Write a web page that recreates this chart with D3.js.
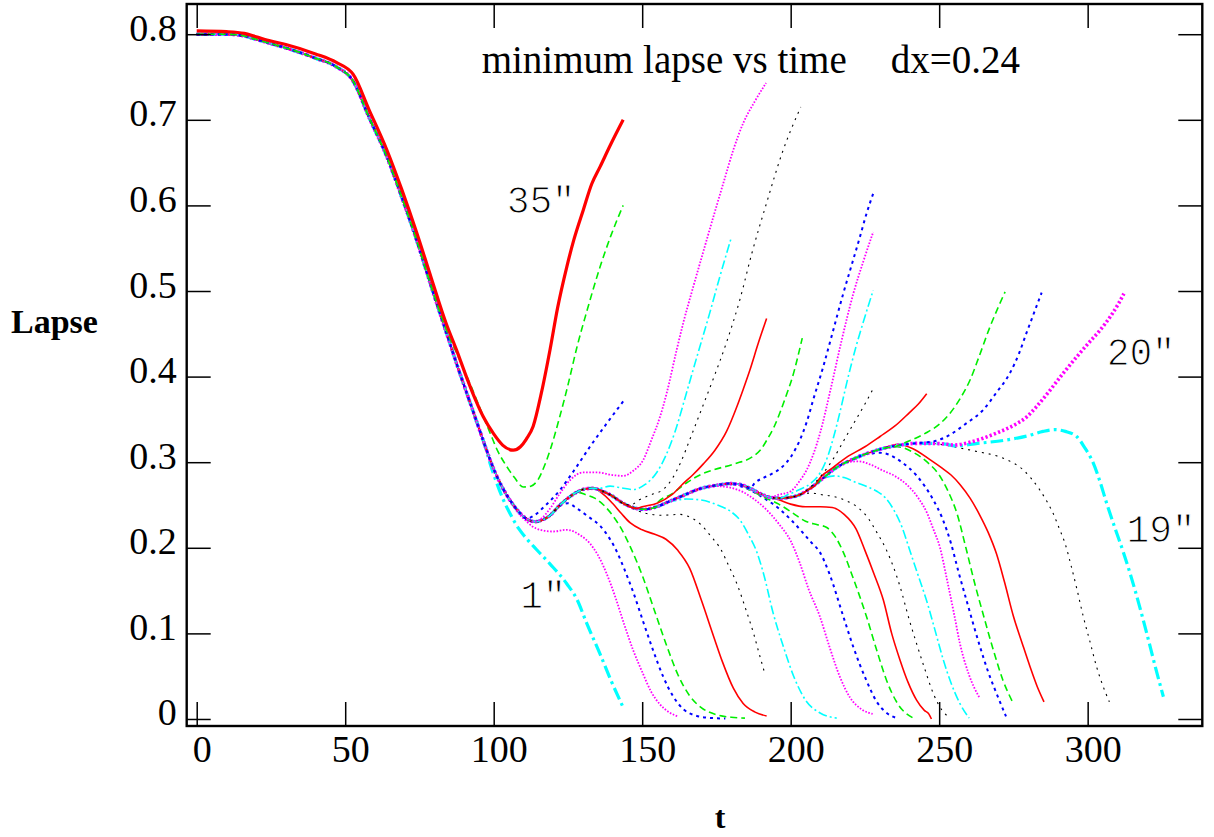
<!DOCTYPE html>
<html>
<head>
<meta charset="utf-8">
<script src="https://cdn.jsdelivr.net/npm/d3@7"></script>
<style>
  body { margin: 0; background: #fff; }
</style>
</head>
<body>
<svg id="chart" width="1214" height="837"></svg>
<script>
// min lapse vs t. every run shares the trunk until it peels away
var trunk = [[0,0.800],[10,0.800],[16,0.798],[20,0.794],[25,0.789],[30,0.784],[40,0.772],[47,0.762],[52.7,0.745],
  [58,0.703],[64,0.657],[69,0.610],[74,0.560],[79,0.505],[84,0.452],[88,0.410],[91,0.380],[94,0.350],[97,0.320],
  [100,0.292],[103,0.270],[106,0.253],[109,0.240],[112,0.232],[114,0.2305],[116,0.232],[119,0.238],[122.3,0.250],
  [125,0.258],[128,0.265],[131,0.269],[133.5,0.2695],[136,0.267],[139.2,0.262],[143.6,0.252],[148,0.246],[151,0.245],
  [154.9,0.248],[159,0.254],[163.8,0.261],[169.4,0.269],[175,0.273],[179.6,0.275],[183,0.274],[186.3,0.2695],
  [190,0.263],[193,0.259],[196.4,0.258],[200,0.259],[203.1,0.262],[206,0.268],[208.8,0.2753],[211.5,0.283],
  [214.3,0.291],[217,0.297],[220,0.302],[225.6,0.310],[231,0.316],[236.8,0.320],[242,0.322],[247,0.322],[252.5,0.321],[258,0.321]]

var tail01 = [[99,0.296],[101,0.276],[103,0.258],[105.5,0.240],[108.5,0.222],[111.5,0.209],[114.4,0.198],[119,0.181],[124.6,0.158],[128,0.140],[131.3,0.112],[135.8,0.076],[139.5,0.045],[143.4,0.015]]
var tail02 = [[108,0.242],[111,0.231],[113,0.225],[115.6,0.221],[120,0.219],[124.6,0.221],[129,0.215],[132.4,0.205],[135,0.192],[138,0.170],[141,0.142],[144,0.110],[147,0.08],[150,0.055],[153,0.032],[156,0.017],[159,0.008],[162,0.003]]
var tail03 = [[122.3,0.249],[125,0.252],[128,0.246],[132,0.236],[136,0.225],[139,0.211],[141.4,0.196],[144,0.175],[147,0.148],[150.4,0.113],[153.7,0.08],[157,0.05],[160.5,0.026],[164,0.011],[168,0.004],[172,0.0015],[178,0.0005]]
var tail04 = [[131,0.262],[134,0.258],[137,0.250],[140,0.238],[143,0.222],[146,0.201],[150,0.168],[154,0.128],[158,0.088],[162,0.052],[166,0.027],[170,0.013],[175,0.005],[180,0.002],[184.6,0.001]]
var tail05 = [[136,0.265],[140,0.252],[143,0.240],[146,0.229],[150,0.221],[154,0.216],[158,0.210],[162,0.197],[166,0.176],[170,0.138],[174,0.097],[177,0.067],[180.7,0.036],[184,0.018],[188,0.008],[191.9,0.0035]]
var tail06 = [[145,0.249],[148,0.244],[151.5,0.240],[157,0.238],[162.7,0.239],[166,0.236],[169.5,0.228],[173,0.214],[176.5,0.198],[179,0.18],[182,0.157],[185,0.127],[187.5,0.100],[189.5,0.075],[191.3,0.053]]
var tail07 = [[157,0.251],[161,0.255],[165,0.257],[169.5,0.256],[176,0.249],[180,0.242],[183,0.232],[186,0.214],[188.6,0.195],[191,0.168],[194,0.125],[197.5,0.085],[201,0.05],[205,0.022],[209.9,0.007],[215.5,0.001]]
var tail08 = [[175,0.272],[180,0.270],[184,0.265],[188,0.256],[192,0.244],[196,0.228],[200,0.208],[203.1,0.182],[206,0.152],[209.8,0.12],[213,0.085],[216.6,0.049],[220,0.025],[224,0.011],[227.6,0.006]]
var tail09 = [[181,0.274],[186,0.268],[191,0.258],[196,0.246],[200,0.233],[204,0.218],[207,0.206],[209.8,0.195],[213,0.17],[217.7,0.12],[221,0.085],[225.5,0.045],[229,0.02],[232,0.008],[235.7,0.001]]
var tail10 = [[186,0.268],[191,0.259],[196,0.251],[201,0.240],[205,0.231],[209,0.227],[212,0.224],[215,0.213],[217.7,0.195],[221,0.165],[225.5,0.12],[229,0.08],[232.3,0.045],[236,0.018],[241.3,0.001]]
var tail11 = [[192,0.260],[196,0.256],[200,0.251],[205,0.248],[210,0.248],[214,0.247],[218,0.239],[222,0.222],[225,0.197],[228,0.17],[231.2,0.139],[234,0.10],[236.8,0.069],[239.5,0.043],[242.4,0.022],[245,0.010],[246.5,0.006],[247.4,0]]
var tail12 = [[203,0.262],[207,0.264],[210.5,0.262],[214.4,0.260],[218,0.256],[222.3,0.248],[226,0.235],[229,0.218],[232.3,0.197],[236.8,0.155],[240,0.115],[242.4,0.088],[245,0.06],[248,0.030],[251,0.01],[253.8,0.001]]
var tail13 = [[211,0.281],[215,0.284],[218,0.282],[222.3,0.276],[226,0.271],[229,0.266],[232,0.258],[234.6,0.245],[237.5,0.224],[240.1,0.197],[243,0.167],[245.7,0.139],[248.5,0.105],[251.4,0.069],[254,0.042],[257,0.018],[260.1,0.001]]
var tail14 = [[219,0.300],[223,0.301],[227,0.297],[231.2,0.290],[235,0.284],[239,0.274],[243,0.258],[246,0.240],[248,0.222],[250.3,0.200],[252.5,0.165],[255,0.123],[257,0.088],[260,0.052],[263.7,0.024]]
var tail15 = [[226,0.310],[230,0.311],[233,0.309],[237,0.301],[242.5,0.284],[248,0.256],[251,0.235],[254,0.205],[256.5,0.172],[259.5,0.135],[263.7,0.085],[266.5,0.055],[269.3,0.030],[272.5,0.003]]
var tail16 = [[231,0.316],[236,0.318],[241,0.312],[246,0.300],[250,0.285],[253,0.266],[256,0.240],[259,0.200],[262,0.158],[265,0.12],[268.2,0.081],[271.5,0.045],[274.7,0.020]]
var tail17 = [[236,0.321],[241,0.316],[246.9,0.303],[251,0.293],[254,0.285],[257,0.274],[260.4,0.258],[263.7,0.238],[266.5,0.218],[269.3,0.193],[272,0.16],[275,0.12],[278,0.088],[280.6,0.061],[283,0.038],[285.3,0.020]]
var tail18 = [[250,0.321],[255,0.318],[262,0.313],[270.5,0.306],[275,0.299],[278.3,0.291],[281,0.281],[283.9,0.2675],[286.3,0.254],[288.4,0.240],[290.5,0.222],[292.4,0.205],[294.5,0.178],[296.5,0.15],[298.5,0.12],[300.8,0.09],[303,0.061],[305,0.04],[307.3,0.020]]
var tail19 = [[255,0.319],[263,0.322],[272.7,0.326],[280,0.331],[285,0.336],[289,0.338],[292.5,0.336],[296.3,0.330],[299,0.317],[301.9,0.299],[304,0.279],[306.4,0.252],[309,0.225],[312,0.195],[316,0.15],[319.9,0.100],[323,0.058],[325.5,0.026]]
var tail20 = [[255,0.320],[260,0.323],[264.8,0.328],[270,0.335],[276.1,0.345],[279.5,0.353],[282.8,0.365],[287.3,0.384],[292,0.405],[296.3,0.423],[300,0.438],[304.1,0.454],[308,0.472],[310.5,0.486],[312.2,0.497]]
var tail21 = [[245,0.323],[249,0.325],[253.6,0.332],[259,0.345],[264.8,0.361],[269,0.38],[273.8,0.404],[277,0.428],[279.4,0.451],[282,0.475],[284.5,0.498]]
var tail22 = [[238,0.322],[242,0.328],[246,0.335],[250.3,0.345],[253.6,0.357],[257,0.374],[260.4,0.396],[263.5,0.424],[267.1,0.458],[270,0.482],[272.2,0.499]]
var tail23 = [[209,0.277],[214,0.293],[218.9,0.306],[225,0.318],[230.1,0.33],[235,0.342],[240,0.358],[243,0.368],[245.8,0.380]]
var tail24 = [[206,0.269],[210,0.283],[214,0.302],[218,0.326],[222,0.35],[225,0.368],[227.8,0.386]]
var tail25 = [[199,0.262],[203,0.268],[207,0.276],[210,0.288],[212.5,0.307],[214.5,0.33],[216.7,0.36],[218.9,0.393],[222,0.435],[225,0.47],[227.8,0.501]]
var tail26 = [[196,0.262],[200,0.266],[203,0.278],[205.4,0.291],[207.7,0.31],[209.9,0.334],[213.5,0.386],[217,0.44],[221.1,0.497],[224.5,0.535],[227.8,0.569]]
var tail27 = [[188,0.276],[191,0.282],[194,0.287],[197,0.294],[200,0.306],[203.1,0.326],[205.5,0.348],[207.6,0.373],[211,0.412],[214,0.45],[217.7,0.497],[220.5,0.53],[223.3,0.563],[225.5,0.59],[227.8,0.614]]
var tail28 = [[155,0.252],[160,0.263],[165,0.276],[170,0.286],[174,0.291],[181,0.298],[187.4,0.307],[190,0.315],[192,0.326],[194.5,0.342],[196.4,0.358],[198.5,0.378],[200.3,0.396],[203.9,0.445]]
var tail29 = [[150,0.248],[155,0.252],[160,0.262],[163.8,0.275],[167,0.285],[170.6,0.298],[174.5,0.314],[178.4,0.336],[182,0.366],[184,0.385],[186.3,0.408],[189,0.438],[191.9,0.468]]
var tail30 = [[146,0.250],[149,0.256],[153,0.262],[157,0.268],[160,0.28],[163,0.30],[166.1,0.327],[170,0.362],[174,0.398],[178.4,0.44],[182.9,0.49],[187,0.545],[191.9,0.603],[197,0.66],[203.4,0.715]]
var tail31 = [[135,0.269],[139.2,0.272],[143,0.27],[147,0.268],[151,0.274],[154.9,0.288],[158,0.308],[161,0.335],[165,0.382],[169,0.43],[172.8,0.475],[176,0.515],[179.8,0.56]]
var tail32 = [[116,0.234],[119,0.246],[122,0.262],[126,0.280],[130,0.288],[135,0.288],[140,0.285],[143.6,0.284],[147,0.29],[150.4,0.303],[153,0.325],[156,0.353],[158.2,0.38],[161.6,0.431],[164,0.465],[167.2,0.505],[170.5,0.545],[174,0.587],[177.5,0.628],[180.7,0.665],[184,0.696],[188,0.722],[191.7,0.743]]
var tail33 = [[111,0.234],[113.3,0.237],[117,0.248],[122.3,0.2675],[127,0.29],[132.4,0.318],[138,0.345],[143.6,0.371]]
var tail34 = [[84,0.455],[88.5,0.42],[92,0.392],[95.5,0.362],[98.8,0.334],[101.5,0.312],[104.4,0.295],[107,0.282],[110,0.271],[112.5,0.272],[115,0.28],[117,0.295],[119,0.314],[122,0.35],[125,0.39],[128,0.434],[131.5,0.478],[135.8,0.528],[139.5,0.565],[143.6,0.600]]
// run 35 sits a hair above the rest the whole way, so it gets its own full path
var tail35 = [[0,0.804],[10,0.803],[16,0.801],[20,0.797],[25,0.792],[30,0.788],[40,0.777],[47,0.767],[52.7,0.753],[58,0.712],
  [64,0.665],[69,0.619],[74,0.569],[79,0.515],[84,0.462],[87.5,0.431],[91,0.398],[94,0.372],[96.5,0.353],[100,0.333],
  [103,0.320],[106.6,0.314],[109,0.318],[111,0.327],[113.3,0.342],[116,0.38],[119,0.432],[121.5,0.48],[124.6,0.528],
  [127,0.56],[130.2,0.595],[133,0.625],[135.8,0.645],[139.5,0.672],[143.6,0.70]]

var xTicks = [0, 50, 100, 150, 200, 250, 300]
var yTicks = [0, 0.1, 0.2, 0.3, 0.4, 0.5, 0.6, 0.7, 0.8]
var runLabels = ['35"', '1"', '20"', '19"']
var labelAt = [[104.4, 0.591], [108.9, 0.130], [306.4, 0.414], [313.1, 0.207]]

var tails = [tail01, tail02, tail03, tail04, tail05, tail06, tail07, tail08, tail09, tail10, tail11, tail12,
  tail13, tail14, tail15, tail16, tail17, tail18, tail19, tail20, tail21, tail22, tail23, tail24,
  tail25, tail26, tail27, tail28, tail29, tail30, tail31, tail32, tail33, tail34, tail35]

// gnuplot style cycle: cyan, magenta, blue, green, red, black
var styles = [
  {color: '#00ffff', dash: '9,3,2,3', w: 1.6},
  {color: '#ff00ff', dash: '1.6,1.6', w: 1.8},
  {color: '#0000ff', dash: '3,4', w: 2},
  {color: '#00ee00', dash: '7,4', w: 1.6},
  {color: '#ff0000', dash: null, w: 1.6},
  {color: '#000000', dash: '2,5', w: 1.1}
]
var thick = [1, 19, 20, 35]

var frameL = 186.7, frameR = 1202.3, frameT = 4, frameB = 726
var serif = '"Liberation Serif", "Times New Roman", serif'

var svg = d3.select('#chart')

var x = d3.scaleLinear().domain([-3.37, 338.6]).range([frameL, frameR])
var y = d3.scaleLinear().domain([-0.0082, 0.8353]).range([frameB, frameT])

var series = tails.map(function(tail, i) {
  var k = i + 1
  var pts = k === 35 ? tail : trunk.filter(function(p) { return p[0] < tail[0][0] }).concat(tail)
  return {k: k, pts: pts}
})

var line = d3.line()
  .x(function(d) { return x(d[0]) })
  .y(function(d) { return y(d[1]) })
  .curve(d3.curveMonotoneX)

svg.append('g').selectAll('path')
  .data(series)
  .enter().append('path')
    .attr('d', function(d) { return line(d.pts) })
    .attr('fill', 'none')
    .attr('stroke', function(d) { return styles[(d.k - 1) % 6].color })
    .attr('stroke-width', function(d) {
      var s = styles[(d.k - 1) % 6]
      return thick.indexOf(d.k) >= 0 ? s.w * 2 : s.w
    })
    .attr('stroke-dasharray', function(d) {
      var s = styles[(d.k - 1) % 6]
      if (!s.dash) return null
      if (thick.indexOf(d.k) >= 0) return s.dash.split(',').map(function(v) { return +v * 1.4 }).join(',')
      return s.dash
    })

// axes, ticks point inward on all four sides
function tidy(g) {
  g.select('.domain').remove()
  g.selectAll('.tick line').attr('stroke', '#000').attr('stroke-width', 1.5)
}

svg.append('g')
  .attr('transform', 'translate(0,' + frameB + ')')
  .call(d3.axisBottom(x).tickValues(xTicks).tickSizeInner(-24).tickSizeOuter(0))
  .call(tidy)
  .call(function(g) {
    g.selectAll('.tick text')
      .attr('y', 36).attr('dy', null).attr('dx', 5)
      .attr('font-size', 38).attr('font-family', serif).attr('fill', '#000')
  })

svg.append('g')
  .attr('transform', 'translate(0,' + frameT + ')')
  .call(d3.axisTop(x).tickValues(xTicks).tickSizeInner(-24).tickSizeOuter(0).tickFormat(''))
  .call(tidy)

svg.append('g')
  .attr('transform', 'translate(' + frameL + ',0)')
  .call(d3.axisLeft(y).tickValues(yTicks).tickSizeInner(-24).tickSizeOuter(0).tickFormat(d3.format('')))
  .call(tidy)
  .call(function(g) {
    g.selectAll('.tick text')
      .attr('x', -10).attr('dy', null).attr('y', 6)
      .attr('font-size', 38).attr('font-family', serif).attr('fill', '#000')
  })

svg.append('g')
  .attr('transform', 'translate(' + frameR + ',0)')
  .call(d3.axisRight(y).tickValues(yTicks).tickSizeInner(-24).tickSizeOuter(0).tickFormat(''))
  .call(tidy)

svg.append('rect')
  .attr('x', frameL).attr('y', frameT)
  .attr('width', frameR - frameL).attr('height', frameB - frameT)
  .attr('fill', 'none').attr('stroke', '#000').attr('stroke-width', 2.4)

// titles
svg.append('text')
  .attr('x', 481.7).attr('y', 73)
  .attr('font-family', serif).attr('font-size', 39)
  .text('minimum lapse vs time')
svg.append('text')
  .attr('x', 890.7).attr('y', 73)
  .attr('font-family', serif).attr('font-size', 39)
  .text('dx=0.24')
svg.append('text')
  .attr('x', 11).attr('y', 333)
  .attr('font-family', serif).attr('font-size', 34).attr('font-weight', 'bold')
  .text('Lapse')
svg.append('text')
  .attr('x', 720).attr('y', 828)
  .attr('text-anchor', 'middle')
  .attr('font-family', serif).attr('font-size', 32).attr('font-weight', 'bold')
  .text('t')

// courier-ish run labels: thin the mono glyphs with a white edge
svg.append('g').selectAll('text')
  .data(runLabels)
  .enter().append('text')
    .attr('x', function(d, i) { return x(labelAt[i][0]) })
    .attr('y', function(d, i) { return y(labelAt[i][1]) })
    .attr('font-family', '"Liberation Mono", "DejaVu Sans Mono", monospace')
    .attr('font-size', 38)
    .attr('fill', '#000')
    .attr('stroke', '#fff')
    .attr('stroke-width', 1.1)
    .text(function(d) { return d })
</script>
</body>
</html>
